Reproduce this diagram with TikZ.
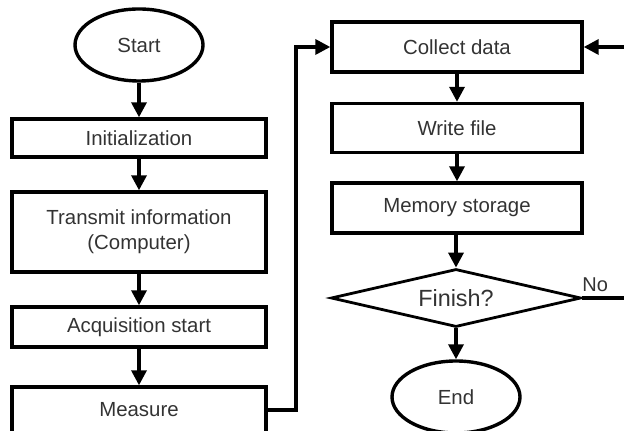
\documentclass[tikz,border=0pt]{standalone}
\usepackage{fontspec}
\setmainfont{Liberation Sans}
\usetikzlibrary{shapes.geometric,arrows.meta}
\begin{document}
\begin{tikzpicture}[x=0.5pt,y=-0.5pt,
  every node/.style={font=\fontsize{10.2}{12.5}\selectfont, text=black!80, inner sep=0pt},
  stepbox/.style={draw=black, line width=1.7pt, rectangle, minimum width=127pt, align=center},
  terminal/.style={draw=black, line width=1.7pt, ellipse, minimum width=64pt, minimum height=36pt},
  decision/.style={draw=black, line width=1.4pt, diamond, minimum width=125pt, minimum height=29pt,
    aspect=4.3, font=\fontsize{11.7}{14}\selectfont},
  flow/.style={line width=1.7pt, -{Triangle[length=7.5pt,width=7.5pt]}},
  link/.style={line width=1.7pt}]
\useasboundingbox (0,0) rectangle (624,431);
\clip (0,0) rectangle (624,431);

% left column
\node[terminal] (start) at (139,45) {Start};
\node[stepbox, minimum height=19pt] (init) at (139,138) {Initialization};
\node[stepbox, minimum height=40pt] (trans) at (139,232) {Transmit information\\(Computer)};
\node[stepbox, minimum height=20pt] (acq) at (139,327) {Acquisition start};
\node[stepbox, minimum height=23pt] (meas) at (139,410) {Measure};

% right column
\node[stepbox, minimum width=125pt, minimum height=25pt] (collect) at (457,47) {Collect data};
\node[stepbox, minimum width=125pt, minimum height=24.5pt] (write) at (457,128) {Write file};
\node[stepbox, minimum width=125pt, minimum height=25pt] (mem) at (457,208) {Memory storage};
\node[decision] (fin) at (456,298) {Finish?};
\node[terminal] (end) at (456,397) {End};
\node[font=\fontsize{10}{12}\selectfont, anchor=south west] (no) at (582,292) {No};

% frame edges where the loop lines leave the sheet
\coordinate (loopout) at (624,298);
\coordinate (loopin) at (624,47);
\coordinate (bend) at (296,410);

% connectors
\draw[flow] (start) -- (init);
\draw[flow] (init) -- (trans);
\draw[flow] (trans) -- (acq);
\draw[flow] (acq) -- (meas);
\draw[flow] (meas.east) -- (bend) |- (collect.west);
\draw[flow] (collect) -- (write);
\draw[flow] (write) -- (mem);
\draw[flow] (mem.south -| fin.north) -- (fin);
\draw[flow] (fin) -- (end);
\draw[link] (fin.east) -- (loopout);
\draw[flow] (loopin) -- (collect.east);
\end{tikzpicture}
\end{document}
